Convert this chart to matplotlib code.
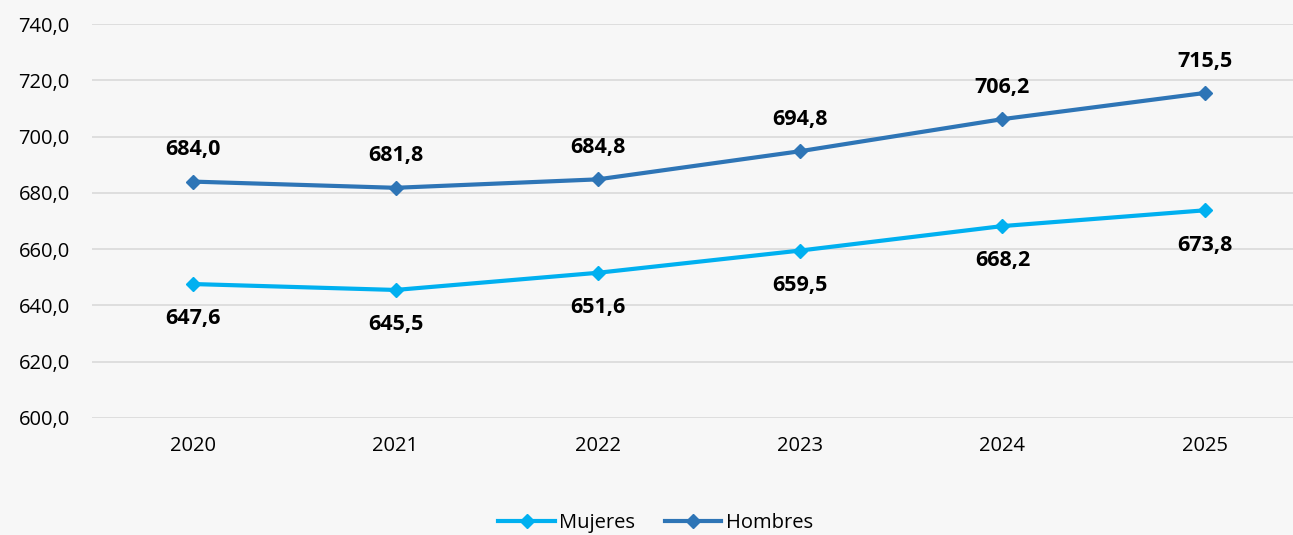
import matplotlib.pyplot as plt
from matplotlib.ticker import FuncFormatter

plt.rcParams['font.family'] = ['Open Sans', 'DejaVu Sans']

years = ['2020', '2021', '2022', '2023', '2024', '2025']
mujeres = [647.6, 645.5, 651.6, 659.5, 668.2, 673.8]
hombres = [684.0, 681.8, 684.8, 694.8, 706.2, 715.5]

bg = '#f7f7f7'
fig = plt.figure(figsize=(12.93, 5.35), dpi=100, facecolor=bg)
ax = fig.add_axes([0.0712, 0.2187, 0.9388, 0.7364], facecolor=bg)

x = range(len(years))
ax.plot(x, mujeres, color='#00b0f0', lw=3, marker='D', ms=7, label='Mujeres')
ax.plot(x, hombres, color='#2e75b6', lw=3, marker='D', ms=7, label='Hombres')

def fmt(v):
    return f'{v:.1f}'.replace('.', ',')

for i in x:
    ax.annotate(fmt(hombres[i]), (i, hombres[i]), xytext=(0, 23), textcoords='offset points',
                ha='center', va='center', fontsize=15.5, fontweight='bold')
    ax.annotate(fmt(mujeres[i]), (i, mujeres[i]), xytext=(0, -25), textcoords='offset points',
                ha='center', va='center', fontsize=15.5, fontweight='bold')

ax.set_xlim(-0.5, 5.5)
ax.set_ylim(600, 740)
ax.set_yticks(range(600, 741, 20))
ax.yaxis.set_major_formatter(FuncFormatter(lambda v, p: fmt(v)))
ax.set_xticks(list(x))
ax.set_xticklabels(years)
ax.grid(axis='y', color='#d9d9d9', lw=1.2)
ax.set_axisbelow(True)
for s in ax.spines.values():
    s.set_visible(False)
ax.tick_params(length=0, labelsize=14.5, pad=13)
ax.tick_params(axis='y', pad=16)

fig.legend(loc='lower center', bbox_to_anchor=(0.507, -0.03), ncol=2, frameon=False,
           fontsize=14.5, handlelength=2.8, columnspacing=1.5, handletextpad=0.2)

fig.savefig('out.png', dpi=100, facecolor=bg)
